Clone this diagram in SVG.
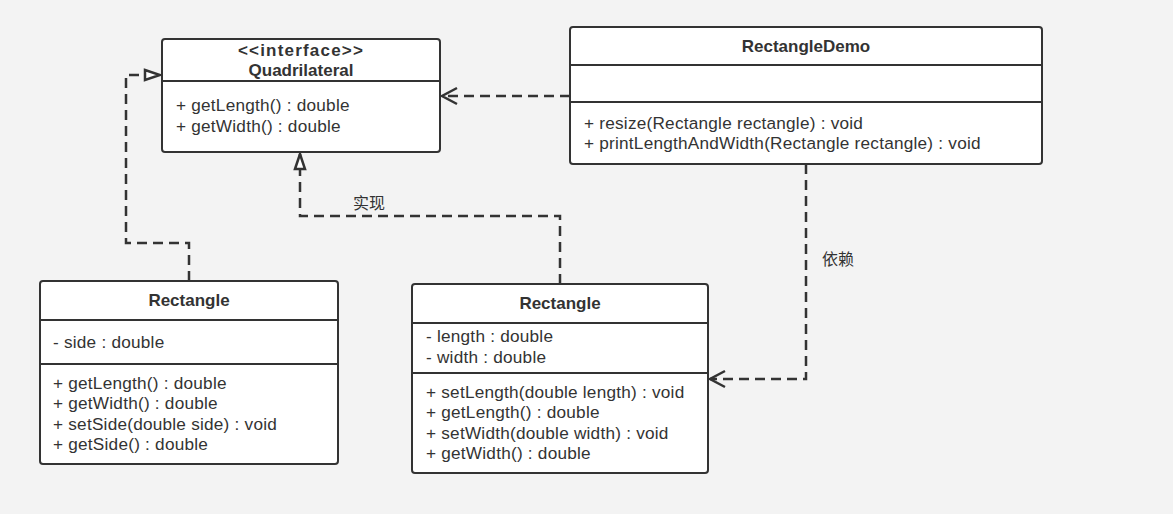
<svg xmlns="http://www.w3.org/2000/svg" width="1173" height="514" viewBox="0 0 1173 514">
<style>
.box{fill:#fff;stroke:#333;stroke-width:2}
.div{stroke:#333;stroke-width:2}
text{font-family:"Liberation Sans","Noto Sans CJK SC",sans-serif;font-size:17.2px;letter-spacing:0.23px;fill:#333}
.t{font-weight:bold;text-anchor:middle;font-size:17px;letter-spacing:0}
.st{letter-spacing:1.2px}
.c{stroke:#333;stroke-width:2.5;fill:none;stroke-dasharray:10 6}
.lbl{font-size:16px;letter-spacing:0}
</style>
<defs>
<marker id="tri" markerWidth="20" markerHeight="16" refX="17" refY="7" orient="auto" markerUnits="userSpaceOnUse">
<path d="M2,2 L17,7 L2,12 Z" fill="#fff" stroke="#333" stroke-width="2.5"/>
</marker>
<marker id="open" markerWidth="20" markerHeight="20" refX="17" refY="10" orient="auto" markerUnits="userSpaceOnUse">
<path d="M2,2 L17,10 L2,18" fill="none" stroke="#333" stroke-width="2.5"/>
</marker>
</defs>
<rect width="1173" height="514" fill="#f3f3f3"/>
<g id="connectors">
<path class="c" d="M189,281 V243 H126 V75 H160" marker-end="url(#tri)"/>
<path class="c" d="M560,284 V216 H300 V154" marker-end="url(#tri)"/>
<path class="c" d="M570,96 H442" marker-end="url(#open)"/>
<path class="c" d="M806,164 V379 H710" marker-end="url(#open)"/>
<text class="lbl" x="353" y="209">实现</text>
<text class="lbl" x="822" y="265">依赖</text>
</g>
<g id="quadrilateral">
<rect class="box" x="162" y="39" width="278" height="113" rx="3"/>
<line class="div" x1="162" y1="81" x2="440" y2="81"/>
<text class="t st" x="301" y="56">&lt;&lt;interface&gt;&gt;</text>
<text class="t" x="301" y="76">Quadrilateral</text>
<text x="176" y="111">+ getLength() : double</text>
<text x="176" y="132">+ getWidth() : double</text>
</g>
<g id="rectangleDemo">
<rect class="box" x="570" y="27" width="472" height="137" rx="3"/>
<line class="div" x1="570" y1="65" x2="1042" y2="65"/>
<line class="div" x1="570" y1="102" x2="1042" y2="102"/>
<text class="t" x="806" y="52">RectangleDemo</text>
<text x="584" y="129">+ resize(Rectangle rectangle) : void</text>
<text x="584" y="149">+ printLengthAndWidth(Rectangle rectangle) : void</text>
</g>
<g id="rectangleSquare">
<rect class="box" x="40" y="281" width="298" height="183" rx="3"/>
<line class="div" x1="40" y1="320" x2="338" y2="320"/>
<line class="div" x1="40" y1="364" x2="338" y2="364"/>
<text class="t" x="189" y="306">Rectangle</text>
<text x="53" y="348">- side : double</text>
<text x="53" y="389">+ getLength() : double</text>
<text x="53" y="409">+ getWidth() : double</text>
<text x="53" y="430">+ setSide(double side) : void</text>
<text x="53" y="450">+ getSide() : double</text>
</g>
<g id="rectangle">
<rect class="box" x="412" y="284" width="296" height="189" rx="3"/>
<line class="div" x1="412" y1="323" x2="708" y2="323"/>
<line class="div" x1="412" y1="373" x2="708" y2="373"/>
<text class="t" x="560" y="309">Rectangle</text>
<text x="426" y="342">- length : double</text>
<text x="426" y="363">- width : double</text>
<text x="426" y="398">+ setLength(double length) : void</text>
<text x="426" y="418">+ getLength() : double</text>
<text x="426" y="439">+ setWidth(double width) : void</text>
<text x="426" y="459">+ getWidth() : double</text>
</g>
</svg>
